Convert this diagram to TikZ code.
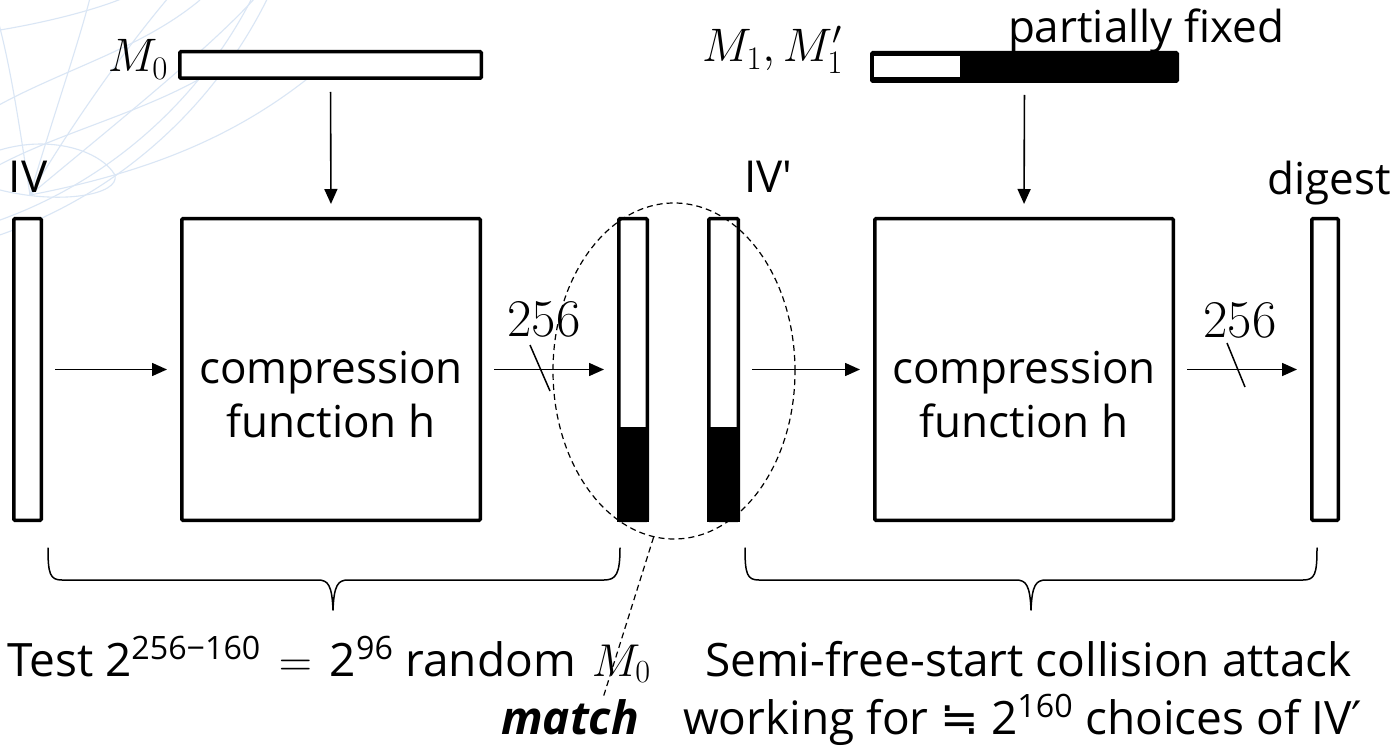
\RequirePackage{fix-cm}
\documentclass[tikz,border=0pt]{standalone}
\usepackage{fontspec}
\setmainfont{Open Sans}
\newfontfamily\osplain{Open Sans}
\newfontfamily\dejavu{DejaVu Sans}
\usetikzlibrary{shapes.geometric,arrows.meta,calc}
\definecolor{globecol}{RGB}{218,230,245}
\newcommand\bigtxt{\fontsize{44}{53}\selectfont}
\newcommand\bottxt{\fontsize{46}{55}\selectfont}
\newcommand\mathtxt{\fontsize{47}{53}\selectfont}
\newcommand\numtxt{\fontsize{53}{60}\selectfont}
\tikzset{
  blk/.style={draw=black, line width=3.5pt, rounded corners=1pt, inner sep=0pt, fill=white},
  arr/.style={line width=1.6pt, -{Triangle[length=15pt,width=13pt]}, shorten <=12pt, shorten >=13pt},
  txt/.style={inner sep=0pt, outer sep=0pt, font=\bigtxt},
  btxt/.style={inner sep=0pt, outer sep=0pt, font=\bottxt},
  brace/.style={line width=1.5pt, line cap=round, line join=round},
  globe/.style={draw=globecol, line width=1.1pt},
}
\begin{document}
\begin{tikzpicture}[x=1pt,y=-1pt]
\useasboundingbox (0,0) rectangle (1395,746);
\fill[white] (0,0) rectangle (1395,746);
% faint globe decoration
\begin{scope}
\clip (0,0) rectangle (1395,746);
\draw[globe] (-155,-210) circle[radius=471];
\draw[globe] (-155,-210) circle[radius=457];
\draw[globe] (30,195) .. controls (120,120) and (220,40) .. (262,-10);
\draw[globe] (30,195) .. controls (80,110) and (140,30) .. (175,-10);
\draw[globe] (30,195) .. controls (55,110) and (80,40) .. (92,-10);
\draw[globe] (30,195) .. controls (20,130) and (10,60) .. (-5,10);
\draw[globe] (30,195) .. controls (160,170) and (250,130) .. (330,60);
\draw[globe] (-10,170) .. controls (60,130) and (160,110) .. (230,60);
\draw[globe] (-10,110) .. controls (60,70) and (140,50) .. (200,0);
\draw[globe] (0,30) .. controls (60,20) and (110,5) .. (130,-5);
\draw[globe] (0,150) .. controls (50,135) and (100,150) .. (115,175) .. controls (120,195) and (60,205) .. (0,190);
\end{scope}
% bars and boxes
\node[blk, minimum width=27.5pt, minimum height=301.5pt] (iv) at (27.5,369.5) {};
\node[blk, minimum width=298.5pt, minimum height=301.5pt] (h1) at (331,369.5) {};
\node[blk, minimum width=28.5pt, minimum height=301.5pt] (b1) at (633,369.5) {};
\node[blk, minimum width=29.5pt, minimum height=301.5pt] (b2) at (723.5,369.5) {};
\node[blk, minimum width=298.5pt, minimum height=301.5pt] (h2) at (1024,369.5) {};
\node[blk, minimum width=26.5pt, minimum height=301.5pt] (dg) at (1325,369.5) {};
\node[blk, minimum width=301.5pt, minimum height=26.5pt] (m0) at (330.5,65) {};
\node[blk, minimum width=305.5pt, minimum height=28.5pt, fill=black] (m1) at (1024.5,67) {};
\fill[white] (874,56.5) rectangle (960,77.5);
\fill[black] (b1.south west) rectangle (b1.east |- 0,427);
\fill[black] (b2.south west) rectangle (b2.east |- 0,427);
% dashed ellipse
\node[draw, dash pattern=on 6pt off 4pt, line width=1.2pt, ellipse, minimum width=242pt, minimum height=336pt, inner sep=0pt] (ell) at (674,371) {};
\coordinate (mt) at (603,698);
\draw[line width=1.2pt, dash pattern=on 6pt off 4pt] (ell.-97) -- (mt);
% arrows
\draw[arr] (m0.south) -- (h1.north);
\draw[arr] (m1.south) -- (h2.north);
\draw[arr] (iv.east) -- (h1.west);
\draw[arr] (h1.east) -- (b1.west);
\draw[arr] (b2.east) -- (h2.west);
\draw[arr] (h2.east) -- (dg.west);
\draw[line width=1.5pt] (530,345) -- (550,391);
\draw[line width=1.5pt] (1227,343) -- (1245,387);
\node[txt, font=\numtxt] (n1) at (544,319) {$256$};
\node[txt, font=\numtxt] (n2) at (1240,320) {$256$};
% labels
\node[txt, anchor=base west] (ivl) at (9,193) {IV};
\node[txt, anchor=base west] (ivpl) at (744,193) {IV{\osplain '}};
\node[txt, anchor=base east] (dgl) at (1391,195) {digest};
\node[txt, anchor=base west] (pf) at (1008,43) {partially fixed};
\node[txt, anchor=base east, font=\mathtxt] (m0l) at (168,72) {$M_0$};
\node[txt, anchor=base east, font=\mathtxt] (m1l) at (843,62) {$M_1,M_1'$};
\node[txt, anchor=base] (c1a) at (331,383) {compression};
\node[txt, anchor=base] (c1b) at (331,437) {function h};
\node[txt, anchor=base] (c2a) at (1024,383) {compression};
\node[txt, anchor=base] (c2b) at (1024,437) {function h};
% braces
\draw[brace] (48,548) .. controls (48,574) and (50,580) .. (62,580) -- (318,580)
  .. controls (328,580) and (332,585) .. (333,610) .. controls (334,585) and (338,580) .. (348,580)
  -- (604,580) .. controls (616,580) and (620,574) .. (620,548);
\draw[brace] (745,548) .. controls (745,574) and (747,580) .. (759,580) -- (1016,580)
  .. controls (1026,580) and (1030,585) .. (1031,610) .. controls (1032,585) and (1036,580) .. (1046,580)
  -- (1303,580) .. controls (1315,580) and (1317,574) .. (1317,548);
% bottom texts
\node[btxt, anchor=base west] (t1) at (7,676) {Test 2\textsuperscript{256−160} \hspace{6pt}$=$\hspace{6pt} 2\textsuperscript{96} random \hspace{4pt}$M_0$};
\node[btxt, anchor=base west] (t2) at (705,676) {Semi-free-start collision attack};
\node[btxt, anchor=base west] (t3) at (683,734) {working for {\dejavu ≒} 2\textsuperscript{160} choices of IV{\dejavu ′}};
\node[btxt, anchor=base east, text depth=0pt, font=\bottxt\bfseries\itshape] (mlab) at (639,734) {match};
\end{tikzpicture}
\end{document}
